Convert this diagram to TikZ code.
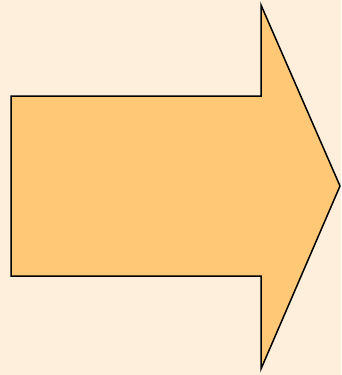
\documentclass[tikz,border=0pt]{standalone}
\definecolor{bgpeach}{HTML}{FDEFDC}
\definecolor{arrowfill}{HTML}{FEC876}
\tikzset{bigarrow/.style={fill=arrowfill,draw=black,line width=1.5pt,line join=miter}}
\begin{document}
\begin{tikzpicture}[x=1pt,y=-1pt]
\fill[bgpeach] (0,0) rectangle (341,375);
\useasboundingbox (0,0) rectangle (341,375);
\draw[bigarrow] (11,96) -- (261,96) -- (261,5) -- (340,186) -- (261,369) -- (261,276) -- (11,276) -- cycle;
\end{tikzpicture}
\end{document}
